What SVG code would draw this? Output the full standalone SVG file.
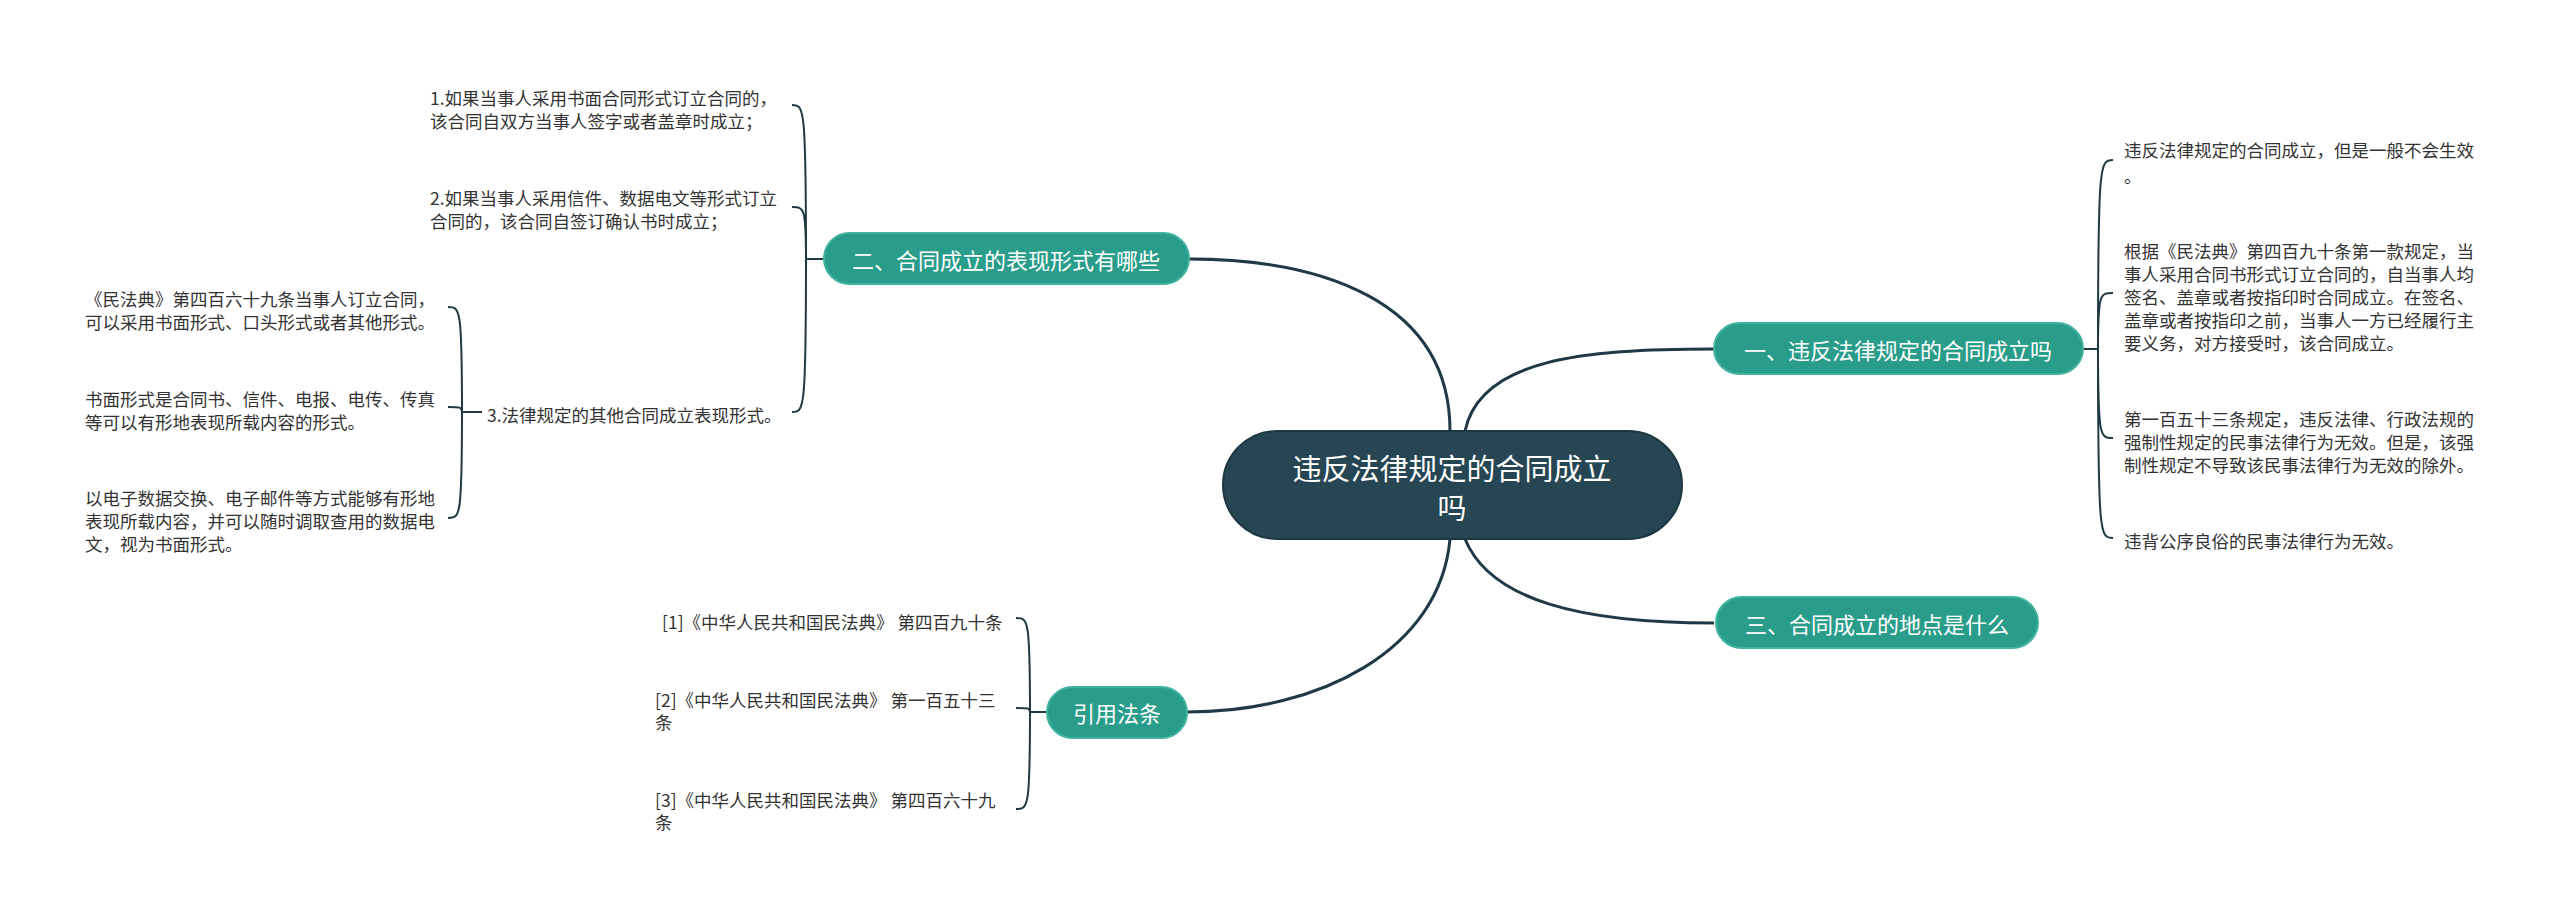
<svg xmlns="http://www.w3.org/2000/svg" width="2560" height="915" viewBox="0 0 2560 915">
<style>
.c{fill:none;stroke:#1f3a46;stroke-width:3}
.b{fill:none;stroke:#1f3a46;stroke-width:2}
.n{fill:#2a9d8a;stroke:#3fb39f;stroke-width:2}
.nt{font-family:"Noto Sans CJK SC",sans-serif;font-size:22px;fill:#fff;text-anchor:middle;dominant-baseline:central}
.t{font-family:"Noto Sans CJK SC",sans-serif;font-size:17.5px;fill:#333;dominant-baseline:central}
</style>
<rect width="2560" height="915" fill="#fff"/>
<g id="connectors">
<path class="c" d="M1450,431 C1450,300 1320,259 1189,259"/>
<path class="c" d="M1465,431 C1480,360 1580,349 1714,349"/>
<path class="c" d="M1465,539 C1490,600 1580,623 1714,623"/>
<path class="c" d="M1450,539 C1440,650 1320,712 1187,712"/>
<path class="b" d="M2083,349 H2098"/>
<path class="b" d="M2098,349 C2098,160 2100,160 2113,160"/>
<path class="b" d="M2098,349 C2098,293 2100,293 2113,293"/>
<path class="b" d="M2098,349 C2098,438 2100,438 2113,438"/>
<path class="b" d="M2098,349 C2098,538 2100,538 2113,538"/>
<path class="b" d="M824,259 H806"/>
<path class="b" d="M806,259 C806,105 804,105 792,105"/>
<path class="b" d="M806,259 C806,207 804,207 792,207"/>
<path class="b" d="M806,259 C806,412 804,412 792,412"/>
<path class="b" d="M482,412 H462"/>
<path class="b" d="M462,412 C462,307 460,307 448,307"/>
<path class="b" d="M462,412 C462,407 460,407 448,407"/>
<path class="b" d="M462,412 C462,518 460,518 448,518"/>
<path class="b" d="M1047,712 H1030"/>
<path class="b" d="M1030,712 C1030,618 1028,618 1016,618"/>
<path class="b" d="M1030,712 C1030,708 1028,708 1016,708"/>
<path class="b" d="M1030,712 C1030,809 1028,809 1016,809"/>
</g>
<g id="root">
<rect x="1223" y="431" width="459" height="108" rx="54" fill="#264653" stroke="#1d3842" stroke-width="2"/>
<text x="1452" y="467" style="font-family:'Noto Sans CJK SC',sans-serif;font-size:29px;fill:#fff;text-anchor:middle;dominant-baseline:central">违反法律规定的合同成立</text>
<text x="1452" y="506" style="font-family:'Noto Sans CJK SC',sans-serif;font-size:29px;fill:#fff;text-anchor:middle;dominant-baseline:central">吗</text>
</g>
<g id="n1">
<rect class="n" x="1714" y="323" width="369" height="51" rx="25.5"/>
<text class="nt" x="1898" y="349">一、违反法律规定的合同成立吗</text>
</g>
<g id="n2">
<rect class="n" x="824" y="233" width="365" height="51" rx="25.5"/>
<text class="nt" x="1006" y="259">二、合同成立的表现形式有哪些</text>
</g>
<g id="n3">
<rect class="n" x="1716" y="597" width="322" height="51" rx="25.5"/>
<text class="nt" x="1877" y="623">三、合同成立的地点是什么</text>
</g>
<g id="n4">
<rect class="n" x="1047" y="687" width="140" height="51" rx="25.5"/>
<text class="nt" x="1117" y="712">引用法条</text>
</g>
<g id="leaves1">
<text class="t" x="2124" y="149">违反法律规定的合同成立，但是一般不会生效</text>
<text class="t" x="2124" y="175">。</text>
<text class="t" x="2124" y="250">根据《民法典》第四百九十条第一款规定，当</text>
<text class="t" x="2124" y="273">事人采用合同书形式订立合同的，自当事人均</text>
<text class="t" x="2124" y="296">签名、盖章或者按指印时合同成立。在签名、</text>
<text class="t" x="2124" y="319">盖章或者按指印之前，当事人一方已经履行主</text>
<text class="t" x="2124" y="342">要义务，对方接受时，该合同成立。</text>
<text class="t" x="2124" y="418">第一百五十三条规定，违反法律、行政法规的</text>
<text class="t" x="2124" y="441">强制性规定的民事法律行为无效。但是，该强</text>
<text class="t" x="2124" y="464">制性规定不导致该民事法律行为无效的除外。</text>
<text class="t" x="2124" y="540">违背公序良俗的民事法律行为无效。</text>
</g>
<g id="leaves2">
<text class="t" x="430" y="97">1.如果当事人采用书面合同形式订立合同的，</text>
<text class="t" x="430" y="120">该合同自双方当事人签字或者盖章时成立；</text>
<text class="t" x="430" y="197">2.如果当事人采用信件、数据电文等形式订立</text>
<text class="t" x="430" y="220">合同的，该合同自签订确认书时成立；</text>
<text class="t" x="487" y="414">3.法律规定的其他合同成立表现形式。</text>
<text class="t" x="85" y="298">《民法典》第四百六十九条当事人订立合同，</text>
<text class="t" x="85" y="321">可以采用书面形式、口头形式或者其他形式。</text>
<text class="t" x="85" y="398">书面形式是合同书、信件、电报、电传、传真</text>
<text class="t" x="85" y="421">等可以有形地表现所载内容的形式。</text>
<text class="t" x="85" y="497">以电子数据交换、电子邮件等方式能够有形地</text>
<text class="t" x="85" y="520">表现所载内容，并可以随时调取查用的数据电</text>
<text class="t" x="85" y="543">文，视为书面形式。</text>
</g>
<g id="leaves4">
<text class="t" x="662" y="621">[1]《中华人民共和国民法典》 第四百九十条</text>
<text class="t" x="655" y="699">[2]《中华人民共和国民法典》 第一百五十三</text>
<text class="t" x="655" y="721">条</text>
<text class="t" x="655" y="799">[3]《中华人民共和国民法典》 第四百六十九</text>
<text class="t" x="655" y="821">条</text>
</g>
</svg>
